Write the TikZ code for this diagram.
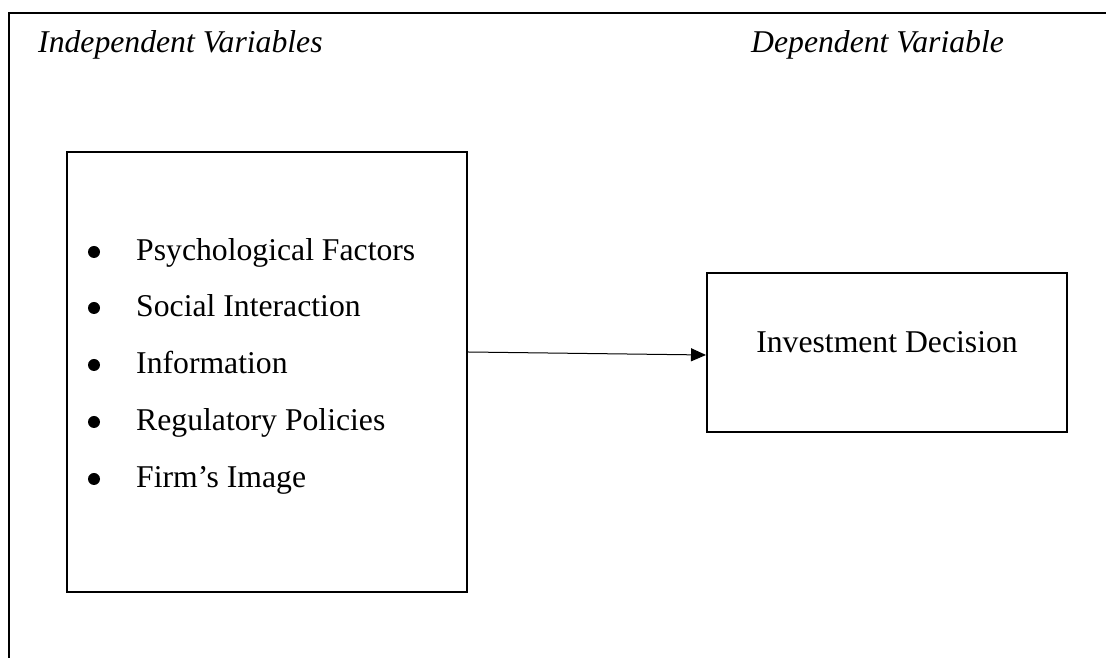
\documentclass[tikz,border=0pt]{standalone}
\usepackage{fontspec}
\setmainfont{Liberation Serif}
\usetikzlibrary{arrows.meta}
\begin{document}
\begin{tikzpicture}[x=1pt,y=1pt,
  txt/.style={font=\fontsize{31.7}{38}\selectfont, inner sep=0pt},
  head/.style={txt, font=\fontsize{31.7}{38}\selectfont\itshape, anchor=base west},
  item/.style={txt, anchor=base west},
  bul/.style={circle, fill=black, inner sep=0pt, minimum size=12pt},
  boxst/.style={draw, line width=2pt, inner sep=0pt},
  conn/.style={line width=1pt, -{Triangle[length=15pt,width=13pt]}}
]
\useasboundingbox (0,0) rectangle (1106,658);
% outer frame (partially visible)
\draw[line width=1.5pt] (9,0) -- (9,645) -- (1106,645);
% headings
\node[head] (hi) at (38,605) {Independent Variables};
\node[head] (hd) at (751,605) {Dependent Variable};
% left box
\node[boxst, minimum width=400pt, minimum height=440pt] (L) at (267,286) {};
% bullet items
\foreach \y/\t/\n in {397/Psychological Factors/a, 341/Social Interaction/b, 284/Information/c, 227/Regulatory Policies/d, 170/Firm’s Image/e}{
  \node[bul] (b\n) at (94,\y+9) {};
  \node[item] (t\n) at (136,\y) {\t};
}
% right box
\node[boxst, txt, draw, line width=2pt, minimum width=360pt, minimum height=159pt,
      text height=20pt, text depth=20pt] (R) at (887,305.5) {Investment Decision};
% connector
\draw[conn] ([yshift=20pt]L.east) -- ([yshift=-2.5pt]R.west);
\end{tikzpicture}
\end{document}
